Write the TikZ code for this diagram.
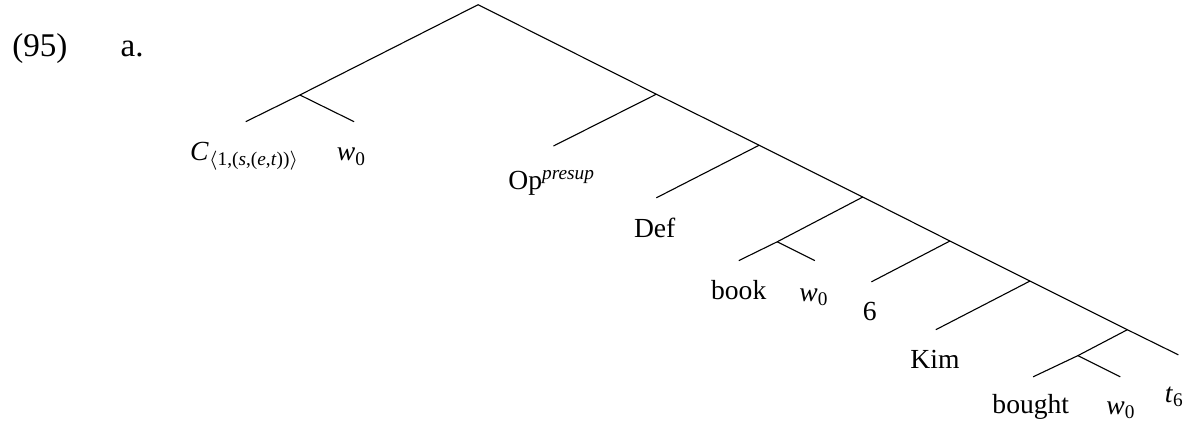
\documentclass[tikz,border=0pt]{standalone}
\usepackage{fontspec}
\setmainfont{Liberation Serif}

\begin{document}
\begin{tikzpicture}[leaf/.style={anchor=base, inner sep=0pt}]
  \useasboundingbox (0,0) rectangle (15.26,5.40);
  % Example number
  \node[leaf, anchor=base west, font=\large] (exnum) at (0.15,4.68) {(95)};
  \node[leaf, anchor=base west, font=\large] (exlet) at (1.53,4.68) {a.};

  % Branch points
  \coordinate (top) at (6.09,5.34);
  \coordinate (cbar) at (3.82,4.19);
  \coordinate (s1) at (8.36,4.20);
  \coordinate (s2) at (9.67,3.55);
  \coordinate (s3) at (10.99,2.89);
  \coordinate (booknode) at (9.90,2.32);
  \coordinate (s4) at (12.10,2.33);
  \coordinate (s5) at (13.12,1.82);
  \coordinate (s6) at (14.36,1.20);
  \coordinate (boughtnode) at (13.73,0.87);

  % Tips
  \coordinate (ctip) at (3.13,3.85);
  \coordinate (watip) at (4.51,3.85);
  \coordinate (optip) at (7.05,3.54);
  \coordinate (deftip) at (8.36,2.88);
  \coordinate (booktip) at (9.41,2.08);
  \coordinate (wbtip) at (10.38,2.08);
  \coordinate (sixtip) at (11.10,1.81);
  \coordinate (kimtip) at (11.92,1.20);
  \coordinate (boughttip) at (13.16,0.60);
  \coordinate (wctip) at (14.27,0.60);
  \coordinate (ttip) at (15.01,0.88);

  % Branches
  \draw (ctip) -- (cbar) -- (top) -- (s1) -- (s2) -- (s3) -- (s4) -- (s5) -- (s6) -- (ttip);
  \draw (cbar) -- (watip);
  \draw (s1) -- (optip);
  \draw (s2) -- (deftip);
  \draw (s3) -- (booknode) -- (booktip);
  \draw (booknode) -- (wbtip);
  \draw (s4) -- (sixtip);
  \draw (s5) -- (kimtip);
  \draw (s6) -- (boughtnode) -- (boughttip);
  \draw (boughtnode) -- (wctip);

  % Leaves
  \node[leaf] (clab) at (3.12,3.35) {\textit{C}\textsubscript{$\langle$1,(\textit{s},(\textit{e},\textit{t}))$\rangle$}};
  \node[leaf] (walab) at (4.48,3.35) {\textit{w}\textsubscript{0}};
  \node[leaf] (oplab) at (7.03,2.98) {Op\textsuperscript{\textit{presup}}};
  \node[leaf] (deflab) at (8.34,2.38) {Def};
  \node[leaf] (booklab) at (9.41,1.59) {book};
  \node[leaf] (wblab) at (10.37,1.56) {\textit{w}\textsubscript{0}};
  \node[leaf] (sixlab) at (11.08,1.32) {6};
  \node[leaf] (kimlab) at (11.91,0.71) {Kim};
  \node[leaf] (boughtlab) at (13.13,0.13) {bought};
  \node[leaf] (wclab) at (14.28,0.12) {\textit{w}\textsubscript{0}};
  \node[leaf] (tlab) at (14.96,0.27) {\textit{t}\textsubscript{6}};
\end{tikzpicture}
\end{document}
